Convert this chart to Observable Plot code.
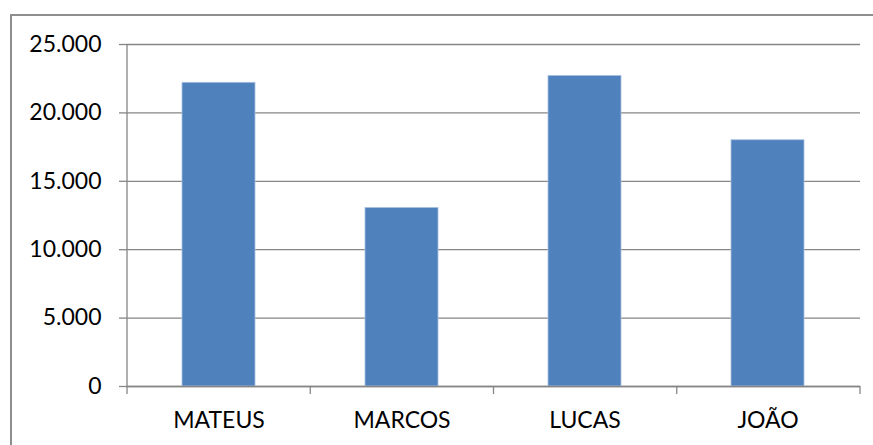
<!DOCTYPE html>
<html>
<head>
<meta charset="utf-8">
<script src="https://cdn.jsdelivr.net/npm/d3@7"></script>
<script src="https://cdn.jsdelivr.net/npm/@observablehq/plot@0.6"></script>
<style>
  html, body { margin: 0; padding: 0; background: #fff; overflow: hidden; }
  #wrap { position: relative; width: 873px; height: 445px; }
  #frame { position: absolute; left: 10px; top: 14px; width: 900px; height: 500px;
           border-top: 2px solid #8e8e8e; border-left: 2px solid #8e8e8e; box-sizing: border-box; }
  #chart { position: absolute; left: 0; top: 0; }
</style>
</head>
<body>
<div id="wrap"><div id="frame"></div><div id="chart"></div></div>
<script>
const categories = ["MATEUS", "MARCOS", "LUCAS", "JOÃO"];
const values = [22200, 13050, 22700, 18000];
const yTicks = [0, 5000, 10000, 15000, 20000, 25000];

const data = categories.map((c, i) => ({name: c, value: values[i]}));
const fmt = d3.formatLocale({decimal: ",", thousands: ".", grouping: [3], currency: ["", ""]}).format(",d");
const W = 873, H = 445;
const font = "Lato, 'Open Sans', sans-serif";
const axisColor = "#868686";

const plot = Plot.plot({
  width: W,
  height: H,
  marginLeft: 127,
  marginRight: 13,
  marginTop: 44,
  marginBottom: 59,
  style: {fontFamily: font, fontSize: "23px", color: "#000", background: "transparent", overflow: "visible"},
  x: {domain: categories, paddingInner: 0.6, paddingOuter: 0.3, label: null},
  y: {domain: [0, 25000], label: null},
  marks: [
    Plot.gridY(yTicks, {stroke: axisColor, strokeOpacity: 1, strokeWidth: 1.3}),
    Plot.barY(data, {x: "name", y: "value", fill: "#4F81BD", stroke: "#a9c1e0", strokeWidth: 0.8}),
    Plot.axisY(yTicks, {tickFormat: fmt, tickSize: 8, tickPadding: 18, stroke: axisColor, strokeWidth: 1.3, fill: "#000", fontSize: 23}),
    Plot.ruleY([0], {stroke: axisColor, strokeWidth: 1.3}),
    Plot.axisX({tickSize: 0, tickPadding: 25, fill: "#000", fontSize: 23})
  ]
});

// vertical axis line and category boundary tick marks, from the plot's scales
const sx = plot.scale("x");
const sy = plot.scale("y");
const [r0, r1] = sx.range;
const step = (r1 - r0) / categories.length;
const yZero = sy.apply(0);
const yTop = sy.apply(sy.domain[1]);
const svg = d3.select(plot);
svg.append("line")
  .attr("x1", r0).attr("x2", r0).attr("y1", yTop).attr("y2", yZero)
  .attr("stroke", axisColor).attr("stroke-width", 1.3);
d3.range(categories.length + 1).forEach(i => {
  svg.append("line")
    .attr("x1", r0 + i * step).attr("x2", r0 + i * step)
    .attr("y1", yZero).attr("y2", yZero + 8)
    .attr("stroke", axisColor).attr("stroke-width", 1.3);
});

document.getElementById("chart").appendChild(plot);
</script>
</body>
</html>
